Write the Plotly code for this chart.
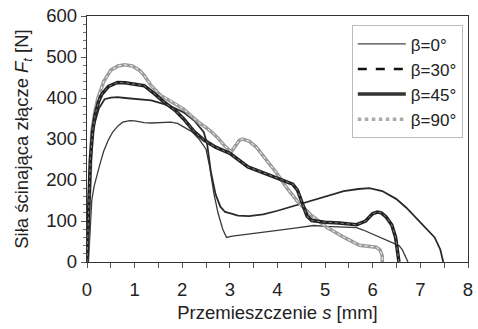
import plotly.graph_objects as go

# beta = 0 deg (thin solid)
x0 = [0.03, 0.06, 0.1, 0.15, 0.2, 0.27, 0.35, 0.45, 0.54, 0.65, 0.75, 0.9, 1.0, 1.2, 1.35,
      1.55, 1.76, 1.9, 2.03, 2.2, 2.35, 2.5, 2.58, 2.66, 2.75, 2.85, 2.93, 3.05, 3.3, 3.7,
      4.0, 4.4, 4.76, 5.0, 5.3, 5.66, 5.8, 6.0, 6.2, 6.44, 6.55, 6.62, 6.68, 6.74]
y0 = [0, 80, 150, 185, 210, 238, 270, 298, 317, 332, 341, 345, 344, 340, 339,
      340, 341, 338, 330, 318, 300, 275, 230, 170, 120, 80, 60, 63, 67, 72,
      77, 83, 89, 87, 86, 84, 78, 68, 58, 47, 40, 30, 15, 0]

# beta = 30 deg
x30 = [0.0, 0.03, 0.06, 0.1, 0.15, 0.25, 0.37, 0.5, 0.64, 0.8, 1.0, 1.35, 1.62, 1.85, 2.03,
       2.25, 2.45, 2.52, 2.6, 2.7, 2.8, 2.9, 3.03, 3.17, 3.4, 3.7, 4.0, 4.3, 4.55, 4.9,
       5.39, 5.7, 5.93, 6.2, 6.49, 6.7, 6.9, 7.1, 7.3, 7.42, 7.48]
y30 = [0, 100, 220, 290, 335, 375, 397, 401, 402, 400, 398, 394, 385, 375, 365,
       345, 317, 290, 220, 165, 135, 122, 118, 113, 112, 116, 125, 135, 144, 155,
       173, 178, 180, 173, 154, 133, 108, 85, 60, 30, 0]

# beta = 45 deg
x45 = [0.0, 0.03, 0.07, 0.12, 0.17, 0.24, 0.31, 0.45, 0.64, 0.8, 1.0, 1.2, 1.4, 1.62, 1.85,
       2.03, 2.25, 2.45, 2.7, 3.0, 3.38, 3.7, 4.0, 4.2, 4.32, 4.42, 4.52, 4.62, 4.72, 5.0,
       5.3, 5.66, 5.85, 6.0, 6.1, 6.18, 6.28, 6.4, 6.48, 6.52, 6.55]
y45 = [0, 100, 250, 320, 358, 390, 409, 428, 438, 437, 433, 430, 412, 390, 370,
       349, 318, 298, 280, 265, 232, 218, 205, 197, 190, 175, 145, 112, 101, 97,
       95, 91, 100, 118, 122, 120, 110, 90, 60, 20, 0]

# beta = 90 deg
x90 = [0.0, 0.02, 0.05, 0.1, 0.17, 0.23, 0.35, 0.5, 0.65, 0.79, 0.95, 1.1, 1.2, 1.35, 1.55,
       1.8, 2.03, 2.34, 2.59, 2.76, 2.9, 3.03, 3.12, 3.2, 3.27, 3.4, 3.55, 3.79, 4.0, 4.2,
       4.41, 4.7, 5.04, 5.4, 5.72, 6.07, 6.15, 6.2, 6.2]
y90 = [0, 60, 180, 317, 370, 400, 440, 468, 478, 481, 478, 468, 455, 430, 406,
       390, 373, 341, 320, 301, 282, 269, 285, 297, 300, 295, 281, 245, 214, 180,
       149, 115, 84, 60, 41, 36, 30, 15, 0]

labels = ["β=0°", "β=30°", "β=45°", "β=90°"]
x_ticks = [0, 1, 2, 3, 4, 5, 6, 7, 8]
y_ticks = [0, 100, 200, 300, 400, 500, 600]

FONT = "Arial, Liberation Sans, sans-serif"
TXT = "#222222"
FS = 18.5

fig = go.Figure()

fig.add_trace(go.Scatter(x=x0, y=y0, mode="lines", showlegend=False,
                         line=dict(color="#3a3a3a", width=1.3)))
fig.add_trace(go.Scatter(x=x30, y=y30, mode="lines", showlegend=False,
                         line=dict(color="#2a2a2a", width=1.8)))
fig.add_trace(go.Scatter(x=x90, y=y90, mode="lines", showlegend=False,
                         line=dict(color="#9a9a9a", width=3.5)))
fig.add_trace(go.Scatter(x=x90, y=y90, mode="lines", showlegend=False,
                         line=dict(color="#ffffff", width=1, dash="dot")))
fig.add_trace(go.Scatter(x=x45, y=y45, mode="lines", showlegend=False,
                         line=dict(color="#222222", width=3.5)))
fig.add_trace(go.Scatter(x=x45, y=y45, mode="lines", showlegend=False,
                         line=dict(color="#999999", width=0.8, dash="dot")))

leg_styles = [
    dict(color="#444444", width=1.3),
    dict(color="#111111", width=2.5, dash="dash"),
    dict(color="#333333", width=3.5),
    dict(color="#aaaaaa", width=3.5, dash="dot"),
]
for lab, st in zip(labels, leg_styles):
    fig.add_trace(go.Scatter(x=[None], y=[None], mode="lines", name=lab, line=st))

fig.update_layout(
    width=478, height=329,
    margin=dict(l=87, r=5, t=13, b=67),
    paper_bgcolor="white", plot_bgcolor="white",
    font=dict(family=FONT, size=FS, color=TXT),
    legend=dict(x=0.695, y=0.962, xanchor="left", yanchor="top",
                bordercolor="#bbbbbb", borderwidth=1, bgcolor="white",
                font=dict(size=17, color=TXT), itemwidth=48,
                tracegroupgap=0),
    xaxis=dict(range=[0, 8], tickvals=x_ticks, ticktext=[str(v) for v in x_ticks],
               showgrid=False, zeroline=False, showline=True, mirror=True,
               linecolor="#333333", linewidth=1.3,
               ticks="outside", ticklen=5, tickcolor="#555555",
               ticklabelstandoff=6,
               minor=dict(dtick=0.5, ticks="outside", ticklen=5, tickcolor="#555555"),
               tickfont=dict(size=FS, color=TXT),
               title=dict(text="Przemieszczenie <i>s</i> [mm]", font=dict(size=FS, color=TXT),
                          standoff=6)),
    yaxis=dict(range=[0, 600], tickvals=y_ticks, ticktext=[str(v) for v in y_ticks],
               showgrid=False, zeroline=False, showline=True, mirror=True,
               linecolor="#333333", linewidth=1.3,
               ticks="outside", ticklen=5, tickcolor="#555555",
               minor=dict(dtick=20, ticks="outside", ticklen=3, tickcolor="#777777"),
               tickfont=dict(size=FS, color=TXT),
               title=dict(text="Siła ścinająca złącze <i>F<sub>t</sub></i> [N]",
                          font=dict(size=FS, color=TXT), standoff=12)),
)

fig.write_html("out.html")
